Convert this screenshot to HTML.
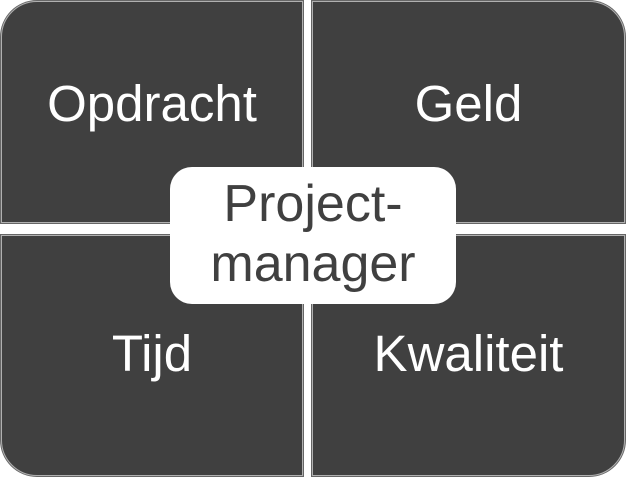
<!DOCTYPE html>
<html><head><style>
body{margin:0;width:627px;height:478px;background:#fff;position:relative;overflow:hidden;font-family:"Liberation Sans",sans-serif}
.q{position:absolute;background:#404040;border:1px solid #b0b0b0;box-shadow:0 0 0 1px #666;color:#fff;font-size:51px;display:flex;align-items:center;justify-content:center;box-sizing:border-box}
.c{position:absolute;left:170px;top:167px;width:286px;height:137px;background:#fff;border-radius:22px;color:#404040;font-size:52px;text-align:center;line-height:60px;box-sizing:border-box;padding-top:7px}
</style></head><body>
<div class="q" style="left:1px;top:1px;width:302px;height:222px;border-top-left-radius:36px;padding-bottom:18px">Opdracht</div>
<div class="q" style="left:312px;top:1px;width:313px;height:222px;border-top-right-radius:36px;padding-bottom:18px">Geld</div>
<div class="q" style="left:1px;top:235px;width:302px;height:241px;border-bottom-left-radius:36px;padding-bottom:4px">Tijd</div>
<div class="q" style="left:312px;top:235px;width:313px;height:241px;border-bottom-right-radius:36px;padding-bottom:4px">Kwaliteit</div>
<div class="c">Project-<br>manager</div>
</body></html>
